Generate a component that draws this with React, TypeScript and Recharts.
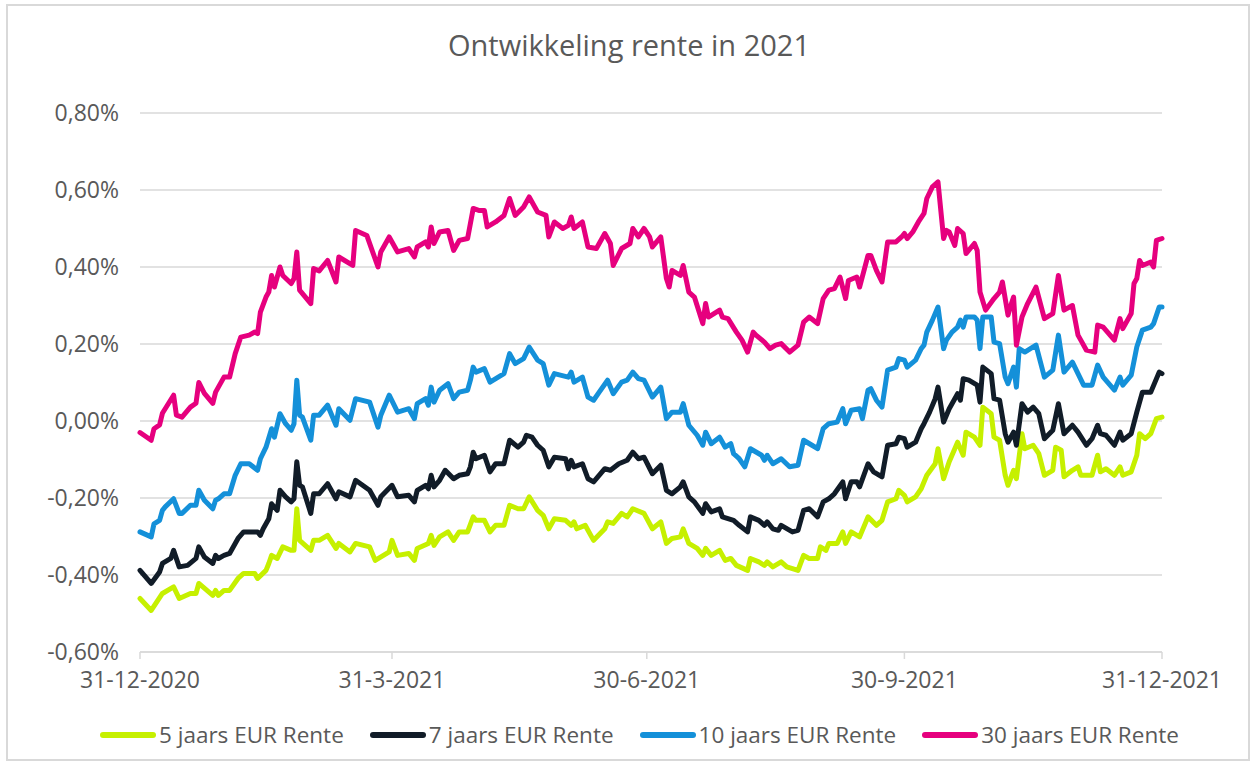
import { LineChart, Line, XAxis, YAxis, CartesianGrid } from "recharts";

// x = dagen sinds 31-12-2020, y = rente in %
const dateTicks = [0, 90, 181, 273, 365];
const dateLabels = ["31-12-2020", "31-3-2021", "30-6-2021", "30-9-2021", "31-12-2021"];
const rateTicks = [-0.6, -0.4, -0.2, 0, 0.2, 0.4, 0.6, 0.8];

const days5 = [
  0, 4, 8, 12, 14, 18, 20, 21, 26, 27, 28, 30, 32, 35, 37, 41, 42, 45, 46, 47,
  49, 51, 54, 55, 56, 57, 61, 62, 64, 67, 70, 71, 75, 77, 82, 84, 89, 90, 92, 96,
  98, 99, 103, 104, 105, 107, 110, 112, 114, 117, 119, 120, 123, 125, 127, 130, 132, 135, 137, 139,
  142, 144, 146, 148, 152, 154, 155, 156, 159, 162, 166, 167, 169, 172, 174, 176, 180, 183, 186, 188,
  190, 193, 194, 196, 199, 201, 202, 204, 207, 209, 211, 213, 217, 218, 221, 223, 224, 226, 229, 231,
  235, 237, 239, 242, 243, 245, 246, 249, 251, 252, 254, 257, 260, 263, 265, 267, 270, 271, 273, 274,
  277, 279, 281, 284, 285, 287, 289, 292, 294, 295, 298, 300, 301, 304, 305, 307, 309, 310, 312, 313,
  315, 316, 319, 321, 323, 326, 327, 329, 330, 333, 335, 336, 340, 342, 343, 345, 348, 350, 351, 354,
  356, 357, 359, 361, 363, 365,
];
const rente5 = [
  -0.461, -0.492, -0.448, -0.431, -0.461, -0.448, -0.448, -0.422, -0.453, -0.44, -0.453, -0.44, -0.44, -0.409, -0.396, -0.396, -0.409, -0.388, -0.37, -0.349,
  -0.357, -0.327, -0.336, -0.336, -0.228, -0.31, -0.336, -0.31, -0.31, -0.297, -0.331, -0.318, -0.34, -0.318, -0.327, -0.362, -0.34, -0.31, -0.349, -0.344,
  -0.362, -0.331, -0.318, -0.297, -0.323, -0.301, -0.288, -0.31, -0.288, -0.288, -0.249, -0.258, -0.258, -0.288, -0.271, -0.271, -0.219, -0.228, -0.228, -0.197,
  -0.232, -0.245, -0.28, -0.254, -0.258, -0.271, -0.262, -0.28, -0.271, -0.31, -0.28, -0.262, -0.266, -0.24, -0.249, -0.228, -0.24, -0.28, -0.262, -0.318,
  -0.305, -0.301, -0.28, -0.318, -0.331, -0.349, -0.331, -0.349, -0.336, -0.362, -0.357, -0.375, -0.388, -0.357, -0.366, -0.375, -0.366, -0.379, -0.366, -0.379,
  -0.388, -0.349, -0.357, -0.357, -0.327, -0.336, -0.318, -0.318, -0.288, -0.318, -0.288, -0.301, -0.249, -0.271, -0.258, -0.21, -0.202, -0.18, -0.193, -0.21,
  -0.197, -0.176, -0.141, -0.111, -0.072, -0.15, -0.106, -0.055, -0.089, -0.029, -0.042, -0.063, 0.036, 0.019, -0.042, -0.05, -0.141, -0.167, -0.128, -0.15,
  -0.033, -0.072, -0.063, -0.085, -0.141, -0.128, -0.068, -0.076, -0.145, -0.128, -0.119, -0.141, -0.141, -0.089, -0.132, -0.124, -0.141, -0.119, -0.141, -0.132,
  -0.089, -0.033, -0.046, -0.033, 0.006, 0.01,
];

const days7 = [
  0, 4, 7, 8, 11, 12, 14, 17, 20, 21, 23, 26, 27, 28, 30, 32, 35, 37, 42, 43,
  44, 46, 47, 49, 50, 52, 54, 55, 56, 57, 58, 61, 62, 64, 67, 70, 71, 75, 77, 82,
  85, 86, 90, 92, 96, 98, 99, 102, 103, 104, 105, 107, 109, 112, 114, 117, 118, 119, 120, 123,
  125, 127, 130, 132, 135, 137, 138, 140, 142, 144, 146, 148, 152, 153, 154, 155, 158, 160, 162, 166,
  168, 171, 174, 176, 178, 180, 183, 186, 188, 190, 193, 194, 196, 198, 201, 202, 204, 207, 208, 212,
  214, 217, 218, 221, 223, 224, 226, 228, 229, 233, 235, 237, 239, 242, 244, 246, 248, 251, 252, 254,
  256, 257, 260, 262, 265, 267, 270, 271, 273, 274, 277, 279, 280, 282, 284, 285, 287, 289, 292, 293,
  294, 296, 299, 300, 301, 304, 305, 307, 309, 310, 312, 313, 315, 317, 319, 321, 323, 326, 328, 330,
  333, 335, 338, 340, 342, 343, 345, 348, 350, 351, 354, 356, 358, 361, 364, 365,
];
const rente7 = [
  -0.388, -0.422, -0.392, -0.37, -0.357, -0.336, -0.379, -0.375, -0.357, -0.327, -0.353, -0.37, -0.349, -0.357, -0.349, -0.344, -0.305, -0.288, -0.288, -0.297,
  -0.28, -0.254, -0.215, -0.232, -0.18, -0.197, -0.21, -0.202, -0.106, -0.167, -0.171, -0.24, -0.189, -0.189, -0.163, -0.202, -0.184, -0.197, -0.154, -0.18,
  -0.219, -0.197, -0.167, -0.197, -0.193, -0.21, -0.18, -0.167, -0.176, -0.141, -0.171, -0.154, -0.128, -0.15, -0.141, -0.137, -0.119, -0.081, -0.098, -0.089,
  -0.132, -0.111, -0.111, -0.05, -0.068, -0.055, -0.037, -0.042, -0.063, -0.076, -0.119, -0.094, -0.098, -0.124, -0.102, -0.119, -0.111, -0.15, -0.158, -0.124,
  -0.128, -0.111, -0.102, -0.081, -0.098, -0.094, -0.137, -0.115, -0.18, -0.189, -0.171, -0.158, -0.197, -0.21, -0.24, -0.215, -0.236, -0.228, -0.249, -0.258,
  -0.271, -0.288, -0.249, -0.258, -0.271, -0.262, -0.28, -0.284, -0.271, -0.288, -0.284, -0.232, -0.228, -0.249, -0.21, -0.202, -0.189, -0.158, -0.202, -0.158,
  -0.158, -0.171, -0.111, -0.132, -0.145, -0.063, -0.059, -0.042, -0.046, -0.068, -0.055, -0.02, -0.007, 0.023, 0.058, 0.088, -0.003, 0.032, 0.071, 0.054,
  0.11, 0.106, 0.093, 0.049, 0.14, 0.123, 0.058, 0.054, -0.033, -0.055, -0.029, -0.063, 0.045, 0.023, 0.036, 0.019, -0.046, -0.024, 0.045, -0.033,
  -0.011, -0.029, -0.063, -0.046, -0.011, -0.033, -0.037, -0.063, -0.029, -0.05, -0.033, 0.023, 0.075, 0.075, 0.127, 0.123,
];

const days10 = [
  0, 4, 5, 7, 8, 9, 12, 14, 15, 18, 20, 21, 23, 26, 27, 28, 30, 32, 34, 36,
  39, 42, 43, 45, 47, 48, 50, 52, 54, 55, 56, 57, 58, 61, 62, 64, 67, 70, 71, 75,
  77, 82, 85, 86, 89, 92, 96, 98, 99, 102, 103, 104, 105, 107, 110, 112, 114, 117, 118, 119,
  120, 123, 125, 130, 132, 134, 137, 139, 142, 144, 146, 148, 153, 154, 155, 158, 160, 162, 164, 167,
  169, 172, 174, 176, 178, 180, 183, 186, 188, 190, 193, 194, 196, 199, 201, 202, 204, 207, 209, 211,
  212, 214, 216, 218, 222, 223, 224, 226, 229, 232, 235, 237, 240, 242, 244, 246, 249, 251, 252, 254,
  257, 258, 260, 261, 263, 265, 267, 270, 271, 273, 274, 277, 279, 280, 281, 283, 285, 287, 288, 290,
  292, 293, 294, 295, 298, 299, 300, 301, 304, 305, 307, 309, 310, 312, 313, 314, 316, 320, 323, 326,
  328, 330, 333, 335, 337, 340, 342, 344, 348, 350, 351, 354, 356, 358, 361, 362, 364, 365,
];
const rente10 = [
  -0.288, -0.301, -0.267, -0.258, -0.232, -0.223, -0.202, -0.24, -0.24, -0.219, -0.219, -0.18, -0.206, -0.228, -0.206, -0.202, -0.189, -0.189, -0.141, -0.111,
  -0.111, -0.128, -0.098, -0.068, -0.02, -0.042, 0.019, -0.007, -0.024, -0.007, 0.106, 0.015, 0.01, -0.05, 0.015, 0.015, 0.041, -0.011, 0.032, 0.002,
  0.058, 0.049, -0.016, 0.015, 0.067, 0.023, 0.032, 0.006, 0.045, 0.058, 0.041, 0.088, 0.049, 0.08, 0.097, 0.058, 0.075, 0.08, 0.106, 0.14,
  0.127, 0.136, 0.101, 0.123, 0.175, 0.149, 0.162, 0.192, 0.158, 0.149, 0.093, 0.123, 0.114, 0.127, 0.101, 0.114, 0.062, 0.054, 0.075, 0.106,
  0.071, 0.101, 0.106, 0.127, 0.11, 0.106, 0.062, 0.088, 0.006, 0.023, 0.023, 0.045, -0.011, -0.037, -0.063, -0.029, -0.059, -0.042, -0.068, -0.059,
  -0.085, -0.098, -0.119, -0.072, -0.089, -0.102, -0.089, -0.111, -0.098, -0.119, -0.115, -0.05, -0.063, -0.072, -0.02, -0.007, -0.003, 0.032, -0.007, 0.028,
  0.032, 0.006, 0.08, 0.084, 0.054, 0.036, 0.132, 0.14, 0.162, 0.158, 0.14, 0.158, 0.188, 0.197, 0.231, 0.262, 0.296, 0.188, 0.21, 0.231,
  0.244, 0.262, 0.244, 0.27, 0.27, 0.262, 0.188, 0.27, 0.27, 0.205, 0.201, 0.114, 0.097, 0.14, 0.088, 0.188, 0.179, 0.197, 0.114, 0.132,
  0.223, 0.127, 0.153, 0.123, 0.093, 0.093, 0.145, 0.114, 0.08, 0.114, 0.093, 0.119, 0.192, 0.236, 0.244, 0.253, 0.296, 0.296,
];

const days30 = [
  0, 4, 5, 7, 8, 12, 13, 15, 18, 20, 21, 23, 26, 27, 28, 30, 32, 34, 36, 39,
  41, 42, 43, 45, 46, 47, 48, 50, 51, 54, 55, 56, 57, 61, 62, 64, 67, 70, 71, 76,
  77, 81, 85, 86, 89, 92, 96, 98, 99, 102, 103, 104, 105, 107, 110, 112, 114, 117, 119, 121,
  123, 124, 127, 130, 132, 134, 137, 139, 142, 145, 146, 148, 151, 153, 154, 155, 158, 160, 163, 166,
  168, 169, 172, 175, 176, 178, 180, 182, 183, 186, 188, 189, 190, 193, 194, 196, 198, 201, 202, 203,
  205, 207, 208, 210, 213, 215, 217, 219, 220, 223, 225, 227, 229, 232, 235, 237, 239, 242, 244, 246,
  248, 250, 252, 253, 256, 257, 260, 261, 263, 265, 267, 270, 272, 273, 274, 276, 278, 280, 281, 283,
  285, 287, 288, 289, 291, 292, 294, 295, 298, 299, 300, 302, 305, 307, 308, 310, 311, 312, 313, 315,
  317, 320, 323, 326, 328, 330, 333, 335, 336, 338, 341, 342, 344, 348, 350, 351, 354, 355, 356, 357,
  358, 361, 362, 363, 365,
];
const rente30 = [
  -0.03, -0.05, -0.02, -0.01, 0.02, 0.067, 0.015, 0.01, 0.036, 0.046, 0.1, 0.072, 0.046, 0.075, 0.088, 0.114, 0.114, 0.175, 0.218, 0.223,
  0.231, 0.227, 0.283, 0.322, 0.335, 0.378, 0.348, 0.4, 0.378, 0.357, 0.37, 0.439, 0.34, 0.305, 0.396, 0.39, 0.417, 0.361, 0.426, 0.404,
  0.495, 0.482, 0.4, 0.439, 0.478, 0.439, 0.448, 0.426, 0.452, 0.465, 0.452, 0.504, 0.461, 0.491, 0.495, 0.443, 0.469, 0.474, 0.552, 0.547,
  0.547, 0.504, 0.517, 0.534, 0.578, 0.534, 0.556, 0.582, 0.543, 0.534, 0.478, 0.517, 0.5, 0.508, 0.53, 0.5, 0.517, 0.452, 0.448, 0.487,
  0.461, 0.404, 0.448, 0.461, 0.5, 0.478, 0.5, 0.478, 0.452, 0.478, 0.37, 0.348, 0.391, 0.378, 0.404, 0.335, 0.322, 0.253, 0.305, 0.27,
  0.279, 0.288, 0.27, 0.266, 0.231, 0.21, 0.179, 0.231, 0.223, 0.205, 0.188, 0.197, 0.201, 0.179, 0.197, 0.257, 0.27, 0.253, 0.318, 0.34,
  0.344, 0.374, 0.318, 0.365, 0.374, 0.348, 0.43, 0.43, 0.391, 0.361, 0.465, 0.465, 0.478, 0.487, 0.474, 0.491, 0.517, 0.539, 0.578, 0.608,
  0.621, 0.474, 0.495, 0.491, 0.456, 0.5, 0.487, 0.435, 0.461, 0.443, 0.335, 0.288, 0.318, 0.335, 0.361, 0.275, 0.3, 0.322, 0.197, 0.27,
  0.305, 0.348, 0.266, 0.279, 0.378, 0.288, 0.3, 0.223, 0.21, 0.184, 0.179, 0.249, 0.244, 0.21, 0.266, 0.24, 0.279, 0.357, 0.37, 0.417,
  0.404, 0.413, 0.4, 0.469, 0.474,
];

const series = [
  { name: "5 jaars EUR Rente", color: "#c6f000", days: days5, values: rente5 },
  { name: "7 jaars EUR Rente", color: "#111c28", days: days7, values: rente7 },
  { name: "10 jaars EUR Rente", color: "#1490d9", days: days10, values: rente10 },
  { name: "30 jaars EUR Rente", color: "#e6007e", days: days30, values: rente30 },
];

const toPoints = (days: number[], values: number[]) => {
  const n = Math.min(days.length, values.length);
  return days.slice(0, n).map((d, i) => ({ day: d, rente: values[i] }));
};

const font = "'Open Sans', 'Noto Sans', sans-serif";
const textColor = "#595959";
const gridColor = "#d9d9d9";

const pct = (v: number) => `${v.toFixed(2).replace(".", ",")}%`;
const dateLabel = (v: number) => dateLabels[dateTicks.indexOf(v)] ?? "";

export default function App() {
  return (
    <div
      style={{
        position: "absolute",
        left: 0,
        top: 0,
        width: 1253,
        height: 765,
        background: "#fff",
        fontFamily: font,
      }}
    >
      <div
        style={{
          position: "absolute",
          left: 6,
          top: 4,
          width: 1244,
          height: 757,
          border: `2px solid ${gridColor}`,
          boxSizing: "border-box",
        }}
      />
      <div
        style={{
          position: "absolute",
          left: 0,
          top: 25,
          width: 1258,
          textAlign: "center",
          fontSize: 29,
          lineHeight: "40px",
          color: textColor,
        }}
      >
        Ontwikkeling rente in 2021
      </div>

      <LineChart
        width={1253}
        height={765}
        margin={{ top: 113, right: 91, bottom: 73, left: 0 }}
        style={{ position: "absolute", left: 0, top: 0 }}
      >
        <CartesianGrid vertical={false} stroke={gridColor} strokeWidth={1.5} />
        <XAxis
          type="number"
          dataKey="day"
          domain={[0, 365]}
          ticks={dateTicks}
          interval={0}
          tickFormatter={dateLabel}
          height={40}
          axisLine={{ stroke: gridColor, strokeWidth: 1.5 }}
          tickLine={{ stroke: gridColor, strokeWidth: 1.5 }}
          tickSize={7}
          tickMargin={13}
          tick={{ fill: textColor, fontSize: 23, fontFamily: font }}
        />
        <YAxis
          type="number"
          domain={[-0.6, 0.8]}
          ticks={rateTicks}
          interval={0}
          tickFormatter={pct}
          width={140}
          axisLine={false}
          tickLine={false}
          tickSize={0}
          tickMargin={21}
          tick={{ fill: textColor, fontSize: 23, fontFamily: font }}
        />
        {series.map((s) => (
          <Line
            key={s.name}
            data={toPoints(s.days, s.values)}
            dataKey="rente"
            name={s.name}
            type="linear"
            stroke={s.color}
            strokeWidth={5}
            strokeLinejoin="round"
            strokeLinecap="round"
            dot={false}
            activeDot={false}
            isAnimationActive={false}
          />
        ))}
      </LineChart>

      <div
        style={{
          position: "absolute",
          left: 100,
          top: 720,
          display: "flex",
          alignItems: "center",
          gap: 26,
          fontSize: 22.5,
          lineHeight: "30px",
          color: textColor,
        }}
      >
        {series.map((s) => (
          <div key={s.name} style={{ display: "flex", alignItems: "center" }}>
            <span
              style={{
                display: "inline-block",
                width: 56,
                height: 6,
                borderRadius: 3,
                background: s.color,
                marginRight: 3,
              }}
            />
            <span>{s.name}</span>
          </div>
        ))}
      </div>
    </div>
  );
}
